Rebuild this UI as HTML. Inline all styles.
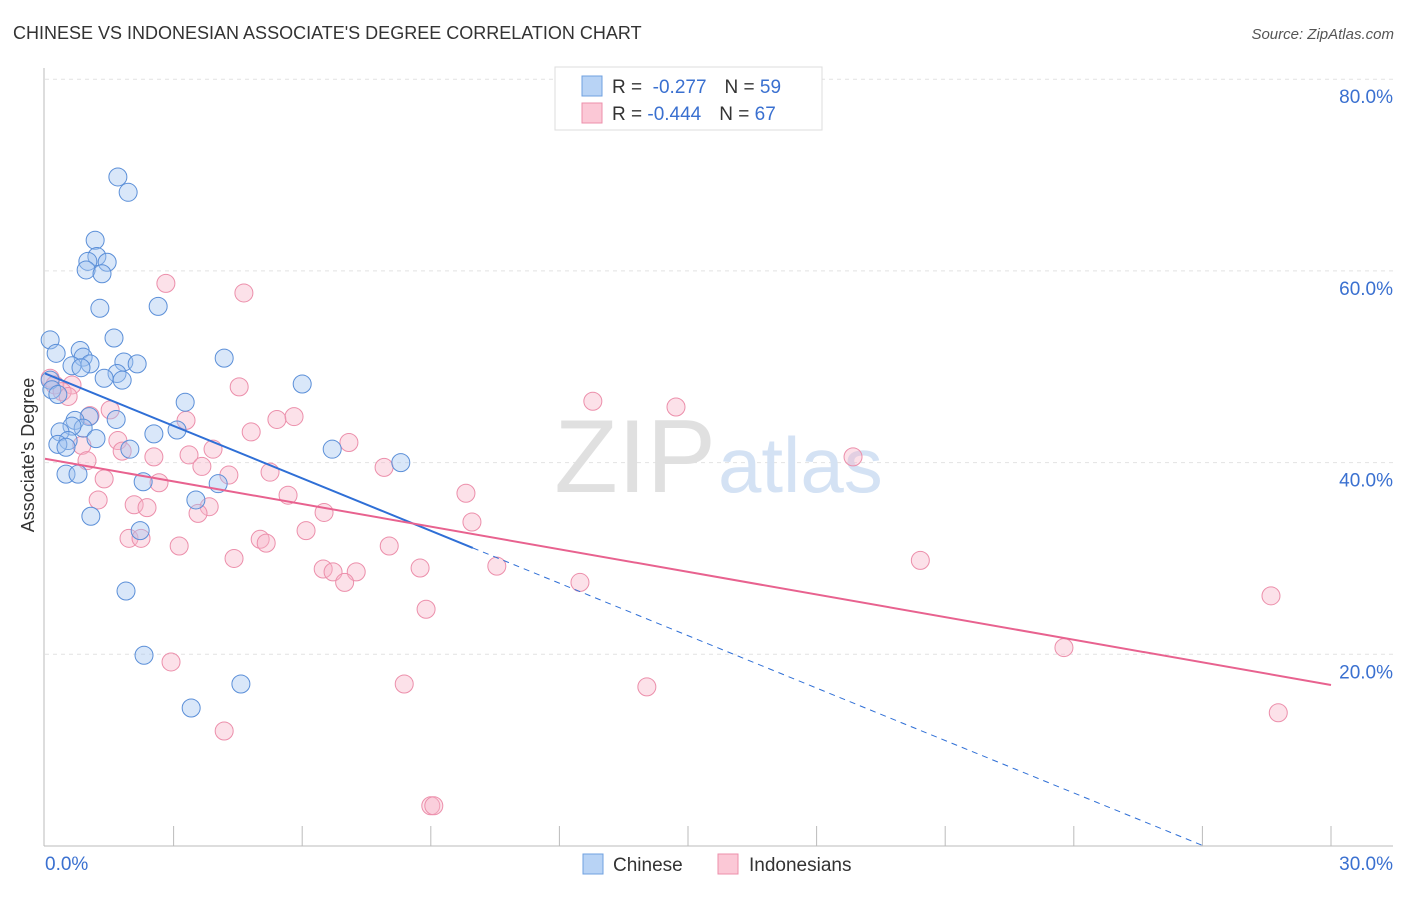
<!DOCTYPE html>
<html><head><meta charset="utf-8"><style>
body{margin:0;background:#fff;font-family:"Liberation Sans",sans-serif}
svg text{font-family:"Liberation Sans",sans-serif}
</style></head><body>
<svg id="chart" width="1406" height="892" xmlns="http://www.w3.org/2000/svg">
<text x="13" y="39" font-size="18" fill="#333">CHINESE VS INDONESIAN ASSOCIATE'S DEGREE CORRELATION CHART</text>
<text x="1394" y="39" font-size="15" fill="#555" font-style="italic" text-anchor="end">Source: ZipAtlas.com</text>
<g id="grid"></g>
<text x="716" y="492" font-size="104" fill="#e0e0e0" text-anchor="end" font-family="Liberation Serif">ZIP</text>
<text x="718" y="492" font-size="78" fill="#d4e2f4">atlas</text>
<g id="axes"></g>
<g id="marks"></g>
<text transform="translate(34,455) rotate(-90)" font-size="18" fill="#333" text-anchor="middle">Associate's Degree</text>
<g>
<rect x="555" y="67" width="267" height="63" fill="#fff" stroke="#ddd"/>
<rect x="582" y="76" width="20" height="20" fill="#b8d3f5" stroke="#6fa0e0"/>
<rect x="582" y="103" width="20" height="20" fill="#fbc8d6" stroke="#ec8fab"/>
<text x="612" y="93" font-size="19" fill="#333">R = <tspan fill="#3a70d0">&#160;-0.277</tspan><tspan dx="18">N = </tspan><tspan fill="#3a70d0">59</tspan></text>
<text x="612" y="120" font-size="19" fill="#333">R = <tspan fill="#3a70d0">-0.444</tspan><tspan dx="18">N = </tspan><tspan fill="#3a70d0">67</tspan></text>
</g>
<g>
<rect x="583" y="854" width="20" height="20" fill="#b8d3f5" stroke="#6fa0e0"/>
<text x="613" y="871" font-size="19" fill="#333">Chinese</text>
<rect x="718" y="854" width="20" height="20" fill="#fbc8d6" stroke="#ec8fab"/>
<text x="749" y="871" font-size="19" fill="#333">Indonesians</text>
</g>
</svg>
<script>
const yTicks=[20,40,60,80];
const yTickLabels=["20.0%","40.0%","60.0%","80.0%"];
const xEdgeLabels=["0.0%","30.0%"];
const chineseX=[1.70,1.94,1.17,1.21,1.00,1.45,0.96,1.33,1.28,2.64,1.61,0.12,0.26,0.82,0.89,1.05,0.63,0.84,1.84,2.15,4.18,1.68,1.38,1.80,6.0,0.12,0.16,0.30,3.27,1.03,0.70,1.66,0.89,0.63,0.35,2.54,3.08,1.19,0.54,0.30,0.49,1.98,6.70,8.30,0.49,0.77,2.29,4.04,3.52,1.07,2.22,1.89,2.31,4.57,3.41];
const chineseY=[69.8,68.2,63.2,61.5,61.0,60.9,60.1,59.7,56.1,56.3,53.0,52.8,51.4,51.7,51.0,50.3,50.1,49.9,50.5,50.3,50.9,49.3,48.8,48.6,48.2,48.6,47.6,47.1,46.3,44.8,44.4,44.5,43.6,43.8,43.2,43.0,43.4,42.5,42.3,41.9,41.6,41.4,41.4,40.0,38.8,38.8,38.0,37.8,36.1,34.4,32.9,26.6,19.9,16.9,14.4];
const indoX=[2.82,4.64,0.12,0.23,0.63,0.40,0.54,4.53,12.78,14.72,1.52,1.05,3.29,5.41,5.81,4.81,7.09,1.70,0.86,3.92,1.80,2.54,3.36,18.85,0.98,3.66,7.91,5.25,4.29,1.38,2.66,9.82,5.67,1.24,2.08,2.38,3.83,3.57,6.51,9.96,6.09,5.02,1.96,2.24,5.16,3.13,8.03,4.41,20.42,6.49,6.72,7.26,8.75,10.54,6.99,12.48,28.6,8.89,23.77,2.94,8.38,14.04,28.77,4.18,9.0,9.07];
const indoY=[58.7,57.7,48.8,48.1,48.1,47.4,46.9,47.9,46.4,45.8,45.5,44.9,44.4,44.5,44.8,43.2,42.1,42.3,41.8,41.4,41.2,40.6,40.8,40.6,40.2,39.6,39.5,39.0,38.7,38.3,37.9,36.8,36.6,36.1,35.6,35.3,35.4,34.7,34.8,33.8,32.9,32.0,32.1,32.1,31.6,31.3,31.3,30.0,29.8,28.9,28.6,28.6,29.0,29.2,27.5,27.5,26.1,24.7,20.7,19.2,16.9,16.6,13.9,12.0,4.2,4.2];
const chineseTrend=[49.3,31.1]; // y at x=0 and x=9.98
const chineseTrendEnd=[9.98,27];
const indoTrend=[40.4,16.8]; // y at x=0 and x=30

const NS="http://www.w3.org/2000/svg";
const X=v=>45+v/30*1286;
const Y=v=>846-v/20*191.7;
function mk(tag,attrs,parent){const e=document.createElementNS(NS,tag);for(const k in attrs)e.setAttribute(k,attrs[k]);parent.appendChild(e);return e;}
const grid=document.getElementById('grid'),axes=document.getElementById('axes'),marks=document.getElementById('marks');
yTicks.forEach((t,i)=>{
  const l=mk('line',{x1:45,x2:1393,y1:Y(t),y2:Y(t),stroke:'#e2e2e2','stroke-dasharray':'4,4'},grid);
  
  
  const tx=mk('text',{x:1393,y:Y(t)+24,'font-size':19,fill:'#3a70d0','text-anchor':'end'},axes);
  tx.textContent=yTickLabels[i];
  
  
});
const ax=mk('line',{x1:44,x2:44,y1:68,y2:846,stroke:'#bbb'},axes);


const bx=mk('line',{x1:44,x2:1393,y1:846,y2:846,stroke:'#bbb'},axes);


for(let i=1;i<=10;i++){
  const t=mk('line',{x1:X(i*3),x2:X(i*3),y1:826,y2:846,stroke:'#bbb'},axes);
  
  
}
const xl0=mk('text',{x:45,y:870,'font-size':19,fill:'#3a70d0'},axes);xl0.textContent=xEdgeLabels[0];


const xl1=mk('text',{x:1393,y:870,'font-size':19,fill:'#3a70d0','text-anchor':'end'},axes);xl1.textContent=xEdgeLabels[1];



indoX.forEach((x,i)=>{
  const c=mk('circle',{cx:X(x),cy:Y(indoY[i]),r:9,fill:'rgba(248,180,200,0.4)',stroke:'#ec8fab','stroke-width':1},marks);
  
  
});
chineseX.forEach((x,i)=>{
  const c=mk('circle',{cx:X(x),cy:Y(chineseY[i]),r:9,fill:'rgba(160,195,240,0.4)',stroke:'#5b8fd8','stroke-width':1},marks);
  
  
});
const slope=(chineseTrend[1]-chineseTrend[0])/chineseTrendEnd[0];
const bl=mk('line',{x1:X(0),y1:Y(chineseTrend[0]),x2:X(chineseTrendEnd[0]),y2:Y(chineseTrend[1]),stroke:'#2f6fd6','stroke-width':2},marks);


const bd=mk('line',{x1:X(chineseTrendEnd[0]),y1:Y(chineseTrend[1]),x2:X(chineseTrendEnd[1]),y2:Y(chineseTrend[0]+slope*chineseTrendEnd[1]),stroke:'#2f6fd6','stroke-width':1,'stroke-dasharray':'6,5'},marks);


const pl=mk('line',{x1:X(0),y1:Y(indoTrend[0]),x2:X(30),y2:Y(indoTrend[1]),stroke:'#e8628f','stroke-width':2},marks);


</script>
</body></html>
